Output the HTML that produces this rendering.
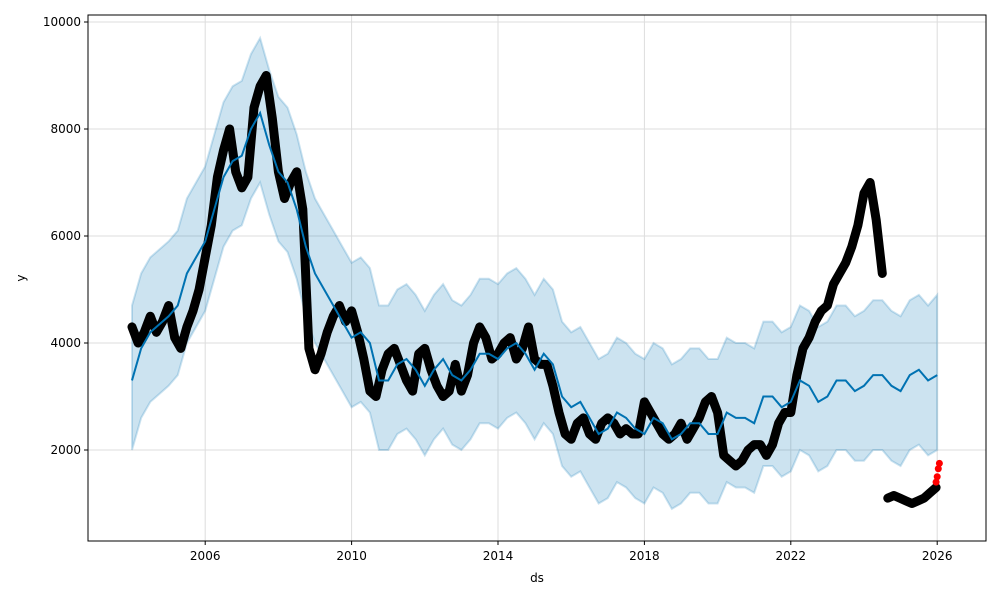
<!DOCTYPE html>
<html><head><meta charset="utf-8"><style>
body{margin:0;background:#fff;font-family:"DejaVu Sans","Liberation Sans",sans-serif}
svg text{font-family:"DejaVu Sans","Liberation Sans",sans-serif;font-size:12px;fill:#000}
</style></head><body>
<svg id="c" width="1000" height="600"></svg>
<script>
const yhat=[3300,3900,4200,4350,4500,4700,5300,5600,5900,6500,7100,7400,7500,8000,8300,7700,7200,7000,6500,5800,5300,5000,4700,4400,4100,4200,4000,3300,3300,3600,3700,3500,3200,3500,3700,3400,3300,3500,3800,3800,3700,3900,4000,3800,3500,3800,3600,3000,2800,2900,2600,2300,2400,2700,2600,2400,2300,2600,2500,2200,2300,2500,2500,2300,2300,2700,2600,2600,2500,3000,3000,2800,2900,3300,3200,2900,3000,3300,3300,3100,3200,3400,3400,3200,3100,3400,3500,3300,3400];
const yUpper=[4700,5300,5600,5750,5900,6100,6700,7000,7300,7900,8500,8800,8900,9400,9700,9100,8600,8400,7900,7200,6700,6400,6100,5800,5500,5600,5400,4700,4700,5000,5100,4900,4600,4900,5100,4800,4700,4900,5200,5200,5100,5300,5400,5200,4900,5200,5000,4400,4200,4300,4000,3700,3800,4100,4000,3800,3700,4000,3900,3600,3700,3900,3900,3700,3700,4100,4000,4000,3900,4400,4400,4200,4300,4700,4600,4300,4400,4700,4700,4500,4600,4800,4800,4600,4500,4800,4900,4700,4900];
const yLower=[2000,2600,2900,3050,3200,3400,4000,4300,4600,5200,5800,6100,6200,6700,7000,6400,5900,5700,5200,4500,4000,3700,3400,3100,2800,2900,2700,2000,2000,2300,2400,2200,1900,2200,2400,2100,2000,2200,2500,2500,2400,2600,2700,2500,2200,2500,2300,1700,1500,1600,1300,1000,1100,1400,1300,1100,1000,1300,1200,900,1000,1200,1200,1000,1000,1400,1300,1300,1200,1700,1700,1500,1600,2000,1900,1600,1700,2000,2000,1800,1800,2000,2000,1800,1700,2000,2100,1900,2000];
const obs=[4300,4000,4200,4500,4200,4400,4700,4100,3900,4300,4600,5000,5600,6200,7100,7600,8000,7200,6900,7100,8400,8800,9000,8200,7200,6700,7000,7200,6500,3900,3500,3800,4200,4500,4700,4400,4600,4200,3700,3100,3000,3500,3800,3900,3600,3300,3100,3800,3900,3500,3200,3000,3100,3600,3100,3400,4000,4300,4100,3700,3800,4000,4100,3700,3900,4300,3700,3600,3600,3200,2700,2300,2200,2500,2600,2300,2200,2500,2600,2500,2300,2400,2300,2300,2900,2700,2500,2300,2200,2300,2500,2200,2400,2600,2900,3000,2700,1900,1800,1700,1800,2000,2100,2100,1900,2100,2500,2700,2700,3400,3900,4100,4400,4600,4700,5100,5300,5500,5800,6200,6800,7000,6300,5300];
const obs2=[1100,1150,1100,1050,1000,1050,1100,1200,1300];
const redVals=[1400,1500,1650,1750];
const xTicks=[2006,2010,2014,2018,2022,2026];
const yTicks=[2000,4000,6000,8000,10000];
const NS="http://www.w3.org/2000/svg",svg=document.getElementById('c');
const X=t=>132+(t-2004)*36.6, Y=v=>557-v*0.0535;
function mk(tag,a,parent){const e=document.createElementNS(NS,tag);for(const k in a)e.setAttribute(k,a[k]);(parent||svg).appendChild(e);return e;}
const pl=88,pr=986,pt=15,pb=541;
xTicks.forEach(t=>{const g=mk('line',{x1:X(t),x2:X(t),y1:pt,y2:pb,stroke:'#ddd','stroke-width':1});


mk('line',{x1:X(t),x2:X(t),y1:pb,y2:pb+4,stroke:'#000'});
const tx=mk('text',{x:X(t),y:pb+19,'text-anchor':'middle'});tx.textContent=t;

});
yTicks.forEach(v=>{const g=mk('line',{x1:pl,x2:pr,y1:Y(v),y2:Y(v),stroke:'#ddd','stroke-width':1});


mk('line',{x1:pl-4,x2:pl,y1:Y(v),y2:Y(v),stroke:'#000'});
const tx=mk('text',{x:pl-7,y:Y(v)+4,'text-anchor':'end'});tx.textContent=v;

});
const tq=i=>2004+i*0.25;
let d='M'+yUpper.map((v,i)=>X(tq(i))+','+Y(v)).join('L');
for(let i=yLower.length-1;i>=0;i--)d+='L'+X(tq(i))+','+Y(yLower[i]);
const band=mk('path',{d:d+'Z',fill:'#0072B2','fill-opacity':0.2,stroke:'#0072B2','stroke-opacity':0.2,'stroke-width':2});


const ob=i=>2004+i/6;
const pts=obs.map((v,i)=>[X(ob(i)),Y(v)]);
const ol=mk('polyline',{points:pts.join(' '),fill:'none',stroke:'#000','stroke-width':9,'stroke-linejoin':'round','stroke-linecap':'round'});


pts.forEach(p=>{const c=mk('circle',{cx:p[0],cy:p[1],r:3.5,fill:'#000'});

});
const p2=obs2.map((v,i)=>[X(2024.65+i*0.165),Y(v)]);
const ol2=mk('polyline',{points:p2.join(' '),fill:'none',stroke:'#000','stroke-width':9,'stroke-linejoin':'round','stroke-linecap':'round'});


const fl=mk('polyline',{points:yhat.map((v,i)=>X(tq(i))+','+Y(v)).join(' '),fill:'none',stroke:'#0072B2','stroke-width':2});


redVals.forEach((v,i)=>{const c=mk('circle',{cx:X(2025.97+i*0.03),cy:Y(v),r:3.5,fill:'#f00'});

});
const fr=mk('rect',{x:pl,y:pt,width:pr-pl,height:pb-pt,fill:'none',stroke:'#000','stroke-width':1});


const xl=mk('text',{x:(pl+pr)/2,y:582,'text-anchor':'middle'});xl.textContent='ds';


const yl=mk('text',{x:25,y:(pt+pb)/2,'text-anchor':'middle',transform:'rotate(-90 25 '+(pt+pb)/2+')'});yl.textContent='y';


</script></body></html>
